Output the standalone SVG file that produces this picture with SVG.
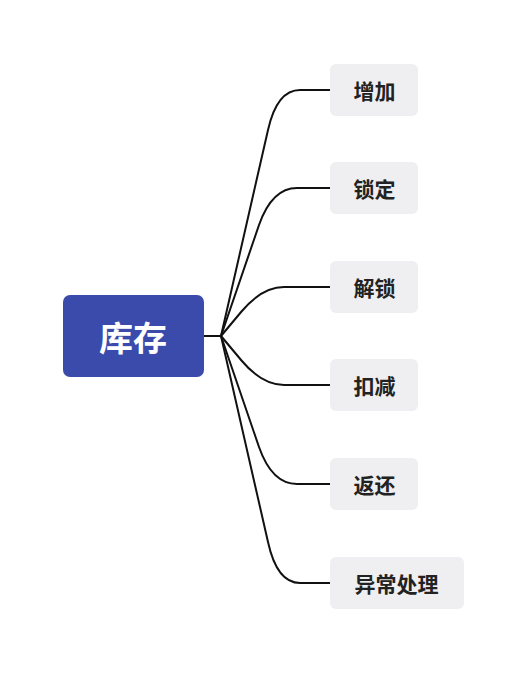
<svg xmlns="http://www.w3.org/2000/svg" width="527" height="673" viewBox="0 0 527 673">
<style>
.c{fill:none;stroke:#111;stroke-width:2;stroke-linecap:round;stroke-linejoin:round}
.box{fill:#efeef0}
.t{font-family:"Noto Sans CJK SC","Noto Sans",sans-serif;font-weight:bold;font-size:21px;fill:#222;text-anchor:middle;dominant-baseline:central}
.rt{font-family:"Noto Sans CJK SC","Noto Sans",sans-serif;font-weight:bold;font-size:34px;fill:#fff;text-anchor:middle;dominant-baseline:central}
</style>
<rect width="527" height="673" fill="#fff"/>
<g id="connectors">
<path class="c" d="M204,336 H221"/>
<path class="c" d="M221,336 L268,130 Q277,90 300,90 H330"/>
<path class="c" d="M221,336 L259,225 Q272,188 297,188 H330"/>
<path class="c" d="M221,336 L241.5,311.5 Q262,287 284,287 H330"/>
<path class="c" d="M221,336 L241.5,360.5 Q262,385 284,385 H330"/>
<path class="c" d="M221,336 L259,447 Q272,484 297,484 H330"/>
<path class="c" d="M221,336 L268,542 Q277,583 300,583 H330"/>
</g>
<g id="root"><rect x="63" y="295" width="141" height="82" rx="7" fill="#3a4bab"/><text class="rt" x="133" y="336">库存</text></g>
<g id="n1"><rect class="box" x="330" y="64" width="88" height="52" rx="6"/><text class="t" x="374.5" y="90">增加</text></g>
<g id="n2"><rect class="box" x="330" y="162" width="88" height="52" rx="6"/><text class="t" x="374.5" y="188">锁定</text></g>
<g id="n3"><rect class="box" x="330" y="261" width="88" height="52" rx="6"/><text class="t" x="374.5" y="287">解锁</text></g>
<g id="n4"><rect class="box" x="330" y="359" width="88" height="52" rx="6"/><text class="t" x="374.5" y="385">扣减</text></g>
<g id="n5"><rect class="box" x="330" y="458" width="88" height="52" rx="6"/><text class="t" x="374.5" y="484">返还</text></g>
<g id="n6"><rect class="box" x="330" y="557" width="134" height="52" rx="6"/><text class="t" x="396.5" y="583">异常处理</text></g>
</svg>
